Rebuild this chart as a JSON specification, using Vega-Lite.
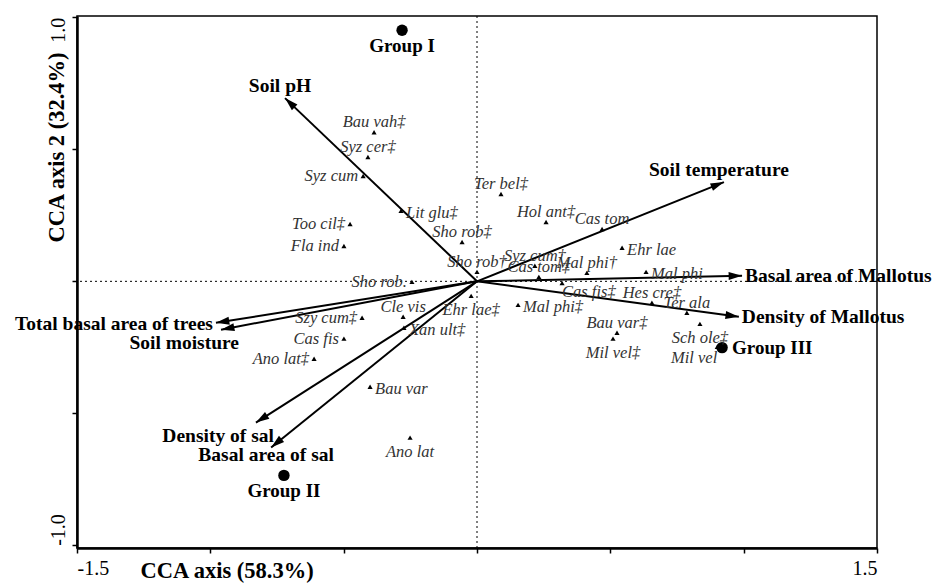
{
  "$schema": "https://vega.github.io/schema/vega-lite/v6.json",
  "width": 800,
  "height": 532,
  "autosize": {"type": "none"},
  "padding": {"left": 77, "top": 16, "right": 56, "bottom": 36},
  "background": "white",
  "config": {
    "view": {"stroke": "black", "strokeWidth": 1.5},
    "font": "Liberation Serif"
  },
  "datasets": {
    "env": [
      {"name": "Soil pH", "x": -0.720, "y": 0.694, "pos": "above"},
      {"name": "Soil temperature", "x": 0.926, "y": 0.376, "pos": "above"},
      {"name": "Basal area of Mallotus", "x": 0.994, "y": 0.021, "pos": "right"},
      {"name": "Density of Mallotus", "x": 0.982, "y": -0.134, "pos": "right"},
      {"name": "Total basal area of trees", "x": -0.979, "y": -0.157, "pos": "left"},
      {"name": "Soil moisture", "x": -0.960, "y": -0.183, "pos": "belowleft"},
      {"name": "Density of sal", "x": -0.829, "y": -0.535, "pos": "belowleft"},
      {"name": "Basal area of sal", "x": -0.772, "y": -0.629, "pos": "below"}
    ],
    "species": [
      {"name": "Bau vah‡", "x": -0.386, "y": 0.565, "pos": "above"},
      {"name": "Syz cer‡", "x": -0.409, "y": 0.471, "pos": "above"},
      {"name": "Syz cum", "x": -0.427, "y": 0.399, "pos": "left"},
      {"name": "Lit glu‡", "x": -0.285, "y": 0.267, "pos": "right"},
      {"name": "Too cil‡", "x": -0.476, "y": 0.217, "pos": "left"},
      {"name": "Fla ind", "x": -0.499, "y": 0.134, "pos": "left"},
      {"name": "Sho rob‡", "x": -0.056, "y": 0.149, "pos": "above"},
      {"name": "Sho rob†", "x": 0.0, "y": 0.036, "pos": "above"},
      {"name": "Sho rob.", "x": -0.244, "y": -0.002, "pos": "left"},
      {"name": "Ter bel‡", "x": 0.090, "y": 0.331, "pos": "above"},
      {"name": "Hol ant‡", "x": 0.259, "y": 0.225, "pos": "above"},
      {"name": "Cas tom", "x": 0.469, "y": 0.198, "pos": "above"},
      {"name": "Ehr lae", "x": 0.544, "y": 0.127, "pos": "right"},
      {"name": "Mal phi†", "x": 0.412, "y": 0.032, "pos": "above"},
      {"name": "Mal phi", "x": 0.634, "y": 0.036, "pos": "right"},
      {"name": "Syz cum†", "x": 0.217, "y": 0.059, "pos": "above"},
      {"name": "Cas tom‡", "x": 0.232, "y": 0.017, "pos": "above"},
      {"name": "Cas fis‡", "x": 0.319, "y": -0.006, "pos": "belowright"},
      {"name": "Hes cre‡", "x": 0.656, "y": -0.081, "pos": "above"},
      {"name": "Ter ala", "x": 0.787, "y": -0.119, "pos": "above"},
      {"name": "Mal phi‡", "x": 0.154, "y": -0.089, "pos": "right"},
      {"name": "Ehr lae‡", "x": -0.022, "y": -0.055, "pos": "below"},
      {"name": "Bau var‡", "x": 0.525, "y": -0.195, "pos": "above"},
      {"name": "Mil vel‡", "x": 0.510, "y": -0.217, "pos": "below"},
      {"name": "Sch ole‡", "x": 0.836, "y": -0.161, "pos": "below"},
      {"name": "Mil vel", "x": 0.901, "y": -0.248, "pos": "belowleft"},
      {"name": "Cle vis", "x": -0.277, "y": -0.134, "pos": "above"},
      {"name": "Szy cum‡", "x": -0.431, "y": -0.138, "pos": "left"},
      {"name": "Cas fis", "x": -0.499, "y": -0.217, "pos": "left"},
      {"name": "Ano lat‡", "x": -0.611, "y": -0.293, "pos": "left"},
      {"name": "Xan ult‡", "x": -0.274, "y": -0.176, "pos": "right"},
      {"name": "Bau var", "x": -0.401, "y": -0.399, "pos": "right"},
      {"name": "Ano lat", "x": -0.251, "y": -0.592, "pos": "below"}
    ],
    "groups": [
      {"name": "Group I", "x": -0.281, "y": 0.951, "pos": "below"},
      {"name": "Group II", "x": -0.724, "y": -0.735, "pos": "below"},
      {"name": "Group III", "x": 0.919, "y": -0.251, "pos": "right"}
    ]
  },
  "layer": [
    {
      "data": {"name": "env"},
      "mark": {"type": "rule", "color": "black", "strokeWidth": 2},
      "encoding": {
        "x": {
          "field": "x", "type": "quantitative",
          "scale": {"domain": [-1.5, 1.5], "nice": false, "zero": false},
          "axis": {
            "values": [-1.5, -1, -0.5, 0, 0.5, 1, 1.5],
            "labelExpr": "datum.value == -1.5 ? '-1.5' : (datum.value == 1.5 ? '1.5' : '')",
            "labelFlush": true,
            "labelFont": "Liberation Serif", "labelFontSize": 20, "labelColor": "black", "labelPadding": 5,
            "tickSize": 5, "tickColor": "black", "tickWidth": 1.5,
            "domainColor": "black", "domainWidth": 2.5, "grid": false,
            "title": "CCA axis (58.3%)",
            "titleFont": "Liberation Serif", "titleFontSize": 22.5, "titleFontWeight": "bold", "titleColor": "black",
            "titleAnchor": "start", "titleAlign": "left", "titleBaseline": "middle",
            "titleX": 63, "titleY": 22
          }
        },
        "y": {
          "field": "y", "type": "quantitative",
          "scale": {"domain": [-1.01, 1.005], "nice": false, "zero": false},
          "axis": {
            "values": [-1, -0.5, 0, 0.5, 1],
            "labelExpr": "datum.value == 1 ? '1.0' : (datum.value == -1 ? '-1.0' : '')",
            "labelAngle": -90,
            "labelAlign": {"condition": {"test": "datum.value > 0", "value": "right"}, "value": "left"},
            "labelBaseline": "bottom",
            "labelFont": "Liberation Serif", "labelFontSize": 20, "labelColor": "black", "labelPadding": 4,
            "tickSize": 5, "tickColor": "black", "tickWidth": 1.5,
            "domainColor": "black", "domainWidth": 2.5, "grid": false,
            "title": "CCA axis 2 (32.4%)",
            "titleFont": "Liberation Serif", "titleFontSize": 22.5, "titleFontWeight": "bold", "titleColor": "black",
            "titleAngle": -90, "titleAlign": "center", "titleBaseline": "middle",
            "titleX": -21, "titleY": 131
          }
        },
        "x2": {"datum": 0},
        "y2": {"datum": 0}
      }
    },
    {
      "data": {"values": [{}]},
      "mark": {"type": "rule", "color": "black", "strokeWidth": 1, "strokeDash": [2, 3]},
      "encoding": {
        "x": {"datum": 0, "type": "quantitative", "scale": {"domain": [-1.5, 1.5], "nice": false, "zero": false}}
      }
    },
    {
      "data": {"values": [{}]},
      "mark": {"type": "rule", "color": "black", "strokeWidth": 1, "strokeDash": [2, 3]},
      "encoding": {
        "y": {"datum": 0, "type": "quantitative", "scale": {"domain": [-1.01, 1.005], "nice": false, "zero": false}}
      }
    },
    {
      "data": {"name": "env"},
      "transform": [{"calculate": "atan2(datum.x, datum.y) * 180 / PI", "as": "ang"}],
      "mark": {"type": "point", "shape": "M0,0L0.6,2L-0.6,2Z", "filled": true, "color": "black", "opacity": 1, "size": 180},
      "encoding": {
        "x": {"field": "x", "type": "quantitative", "scale": {"domain": [-1.5, 1.5], "nice": false, "zero": false}},
        "y": {"field": "y", "type": "quantitative", "scale": {"domain": [-1.01, 1.005], "nice": false, "zero": false}},
        "angle": {"field": "ang", "type": "quantitative", "scale": null}
      }
    },
    {
      "data": {"name": "species"},
      "mark": {"type": "point", "shape": "triangle-up", "filled": true, "color": "black", "opacity": 1, "size": 26},
      "encoding": {
        "x": {"field": "x", "type": "quantitative"},
        "y": {"field": "y", "type": "quantitative"}
      }
    },
    {
      "data": {"name": "groups"},
      "mark": {"type": "point", "shape": "circle", "filled": true, "color": "black", "opacity": 1, "size": 130},
      "encoding": {
        "x": {"field": "x", "type": "quantitative"},
        "y": {"field": "y", "type": "quantitative"}
      }
    },
    {
      "data": {"name": "env"},
      "transform": [{"filter": "datum.pos == 'above'"}],
      "mark": {"type": "text", "font": "Liberation Serif", "fontWeight": "bold", "fontSize": 19.5, "color": "black", "align": "center", "baseline": "middle", "dx": -5, "dy": -12},
      "encoding": {
        "x": {"field": "x", "type": "quantitative"},
        "y": {"field": "y", "type": "quantitative"},
        "text": {"field": "name"}
      }
    },
    {
      "data": {"name": "env"},
      "transform": [{"filter": "datum.pos == 'right'"}],
      "mark": {"type": "text", "font": "Liberation Serif", "fontWeight": "bold", "fontSize": 19.5, "color": "black", "align": "left", "baseline": "middle", "dx": 3},
      "encoding": {
        "x": {"field": "x", "type": "quantitative"},
        "y": {"field": "y", "type": "quantitative"},
        "text": {"field": "name"}
      }
    },
    {
      "data": {"name": "env"},
      "transform": [{"filter": "datum.pos == 'left'"}],
      "mark": {"type": "text", "font": "Liberation Serif", "fontWeight": "bold", "fontSize": 19.5, "color": "black", "align": "right", "baseline": "middle", "dx": -3, "dy": 1},
      "encoding": {
        "x": {"field": "x", "type": "quantitative"},
        "y": {"field": "y", "type": "quantitative"},
        "text": {"field": "name"}
      }
    },
    {
      "data": {"name": "env"},
      "transform": [{"filter": "datum.pos == 'belowleft'"}],
      "mark": {"type": "text", "font": "Liberation Serif", "fontWeight": "bold", "fontSize": 19.5, "color": "black", "align": "right", "baseline": "middle", "dx": 18, "dy": 13},
      "encoding": {
        "x": {"field": "x", "type": "quantitative"},
        "y": {"field": "y", "type": "quantitative"},
        "text": {"field": "name"}
      }
    },
    {
      "data": {"name": "env"},
      "transform": [{"filter": "datum.pos == 'below'"}],
      "mark": {"type": "text", "font": "Liberation Serif", "fontWeight": "bold", "fontSize": 19.5, "color": "black", "align": "center", "baseline": "middle", "dx": -5, "dy": 8},
      "encoding": {
        "x": {"field": "x", "type": "quantitative"},
        "y": {"field": "y", "type": "quantitative"},
        "text": {"field": "name"}
      }
    },
    {
      "data": {"name": "groups"},
      "transform": [{"filter": "datum.pos == 'below'"}],
      "mark": {"type": "text", "font": "Liberation Serif", "fontWeight": "bold", "fontSize": 19, "color": "black", "align": "center", "baseline": "middle", "dy": 16},
      "encoding": {
        "x": {"field": "x", "type": "quantitative"},
        "y": {"field": "y", "type": "quantitative"},
        "text": {"field": "name"}
      }
    },
    {
      "data": {"name": "groups"},
      "transform": [{"filter": "datum.pos == 'right'"}],
      "mark": {"type": "text", "font": "Liberation Serif", "fontWeight": "bold", "fontSize": 19, "color": "black", "align": "left", "baseline": "middle", "dx": 10},
      "encoding": {
        "x": {"field": "x", "type": "quantitative"},
        "y": {"field": "y", "type": "quantitative"},
        "text": {"field": "name"}
      }
    },
    {
      "data": {"name": "species"},
      "transform": [{"filter": "datum.pos == 'above'"}],
      "mark": {"type": "text", "font": "Liberation Serif", "fontStyle": "italic", "fontSize": 16.5, "color": "#333333", "align": "center", "baseline": "middle", "dy": -10},
      "encoding": {
        "x": {"field": "x", "type": "quantitative"},
        "y": {"field": "y", "type": "quantitative"},
        "text": {"field": "name"}
      }
    },
    {
      "data": {"name": "species"},
      "transform": [{"filter": "datum.pos == 'below'"}],
      "mark": {"type": "text", "font": "Liberation Serif", "fontStyle": "italic", "fontSize": 16.5, "color": "#333333", "align": "center", "baseline": "middle", "dy": 14},
      "encoding": {
        "x": {"field": "x", "type": "quantitative"},
        "y": {"field": "y", "type": "quantitative"},
        "text": {"field": "name"}
      }
    },
    {
      "data": {"name": "species"},
      "transform": [{"filter": "datum.pos == 'left'"}],
      "mark": {"type": "text", "font": "Liberation Serif", "fontStyle": "italic", "fontSize": 16.5, "color": "#333333", "align": "right", "baseline": "middle", "dx": -5},
      "encoding": {
        "x": {"field": "x", "type": "quantitative"},
        "y": {"field": "y", "type": "quantitative"},
        "text": {"field": "name"}
      }
    },
    {
      "data": {"name": "species"},
      "transform": [{"filter": "datum.pos == 'right'"}],
      "mark": {"type": "text", "font": "Liberation Serif", "fontStyle": "italic", "fontSize": 16.5, "color": "#333333", "align": "left", "baseline": "middle", "dx": 5, "dy": 2},
      "encoding": {
        "x": {"field": "x", "type": "quantitative"},
        "y": {"field": "y", "type": "quantitative"},
        "text": {"field": "name"}
      }
    },
    {
      "data": {"name": "species"},
      "transform": [{"filter": "datum.pos == 'belowright'"}],
      "mark": {"type": "text", "font": "Liberation Serif", "fontStyle": "italic", "fontSize": 16.5, "color": "#333333", "align": "left", "baseline": "middle", "dx": 0, "dy": 9},
      "encoding": {
        "x": {"field": "x", "type": "quantitative"},
        "y": {"field": "y", "type": "quantitative"},
        "text": {"field": "name"}
      }
    },
    {
      "data": {"name": "species"},
      "transform": [{"filter": "datum.pos == 'belowleft'"}],
      "mark": {"type": "text", "font": "Liberation Serif", "fontStyle": "italic", "fontSize": 16.5, "color": "#333333", "align": "right", "baseline": "middle", "dx": 0, "dy": 11},
      "encoding": {
        "x": {"field": "x", "type": "quantitative"},
        "y": {"field": "y", "type": "quantitative"},
        "text": {"field": "name"}
      }
    }
  ]
}
